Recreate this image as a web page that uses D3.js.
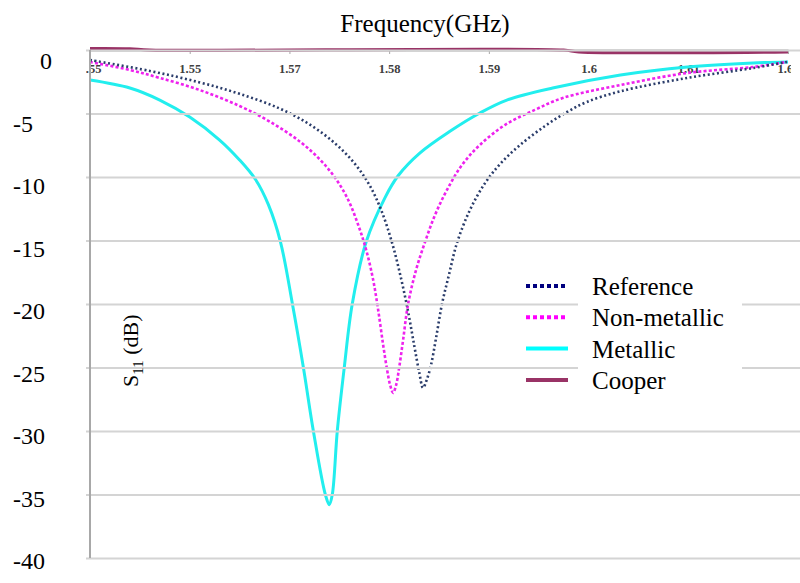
<!DOCTYPE html>
<html><head><meta charset="utf-8">
<script src="https://cdn.jsdelivr.net/npm/d3@7"></script>
<style>body{margin:0;background:#fff}svg{display:block}</style>
</head><body>
<svg id="chart" width="800" height="583"></svg>
<script>
// ---------- data ----------
const xTickValues = [1.55, 1.56, 1.57, 1.58, 1.59, 1.60, 1.61, 1.62];
const xTickLabels = ["1.55", "1.55", "1.57", "1.58", "1.59", "1.6", "1.61", "1.62"];
const yTickValues = [0, -5, -10, -15, -20, -25, -30, -35, -40];

const seriesNames = ["Reference", "Non-metallic", "Metallic", "Cooper"];

const refFreq = [1.5500,1.5560,1.5610,1.5650,1.5690,1.5720,1.5745,1.5765,1.5780,1.5792,1.5803,1.5812,1.5819,1.5825,1.5830,1.5834,1.5838,1.5842,1.5847,1.5853,1.5860,1.5868,1.5881,1.5896,1.5911,1.5931,1.5956,1.5978,1.5998,1.6032,1.6099,1.6165,1.6199];
const refS11  = [-0.79,-1.65,-2.55,-3.45,-4.6,-5.85,-7.3,-8.9,-10.6,-12.6,-15.2,-18.0,-20.6,-23.2,-25.3,-26.6,-25.9,-24.8,-22.7,-20.0,-17.7,-15.2,-12.6,-10.5,-9.0,-7.5,-6.0,-4.9,-4.1,-3.25,-2.2,-1.42,-0.94];

const nonFreq = [1.5500,1.5540,1.5570,1.5610,1.5650,1.5681,1.5711,1.5731,1.5746,1.5759,1.5769,1.5777,1.5784,1.5789,1.5794,1.5798,1.5801,1.5804,1.5807,1.5810,1.5814,1.5819,1.5827,1.5836,1.5846,1.5858,1.5873,1.5891,1.5916,1.5946,1.5974,1.6032,1.6099,1.6165,1.6199];
const nonS11  = [-0.94,-1.57,-2.2,-3.15,-4.41,-5.67,-7.24,-8.66,-10.08,-11.81,-13.78,-15.75,-18.11,-20.47,-23.23,-25.2,-26.38,-27.0,-26.38,-25.04,-22.83,-20.0,-17.32,-15.12,-12.99,-11.02,-9.06,-7.48,-5.91,-4.72,-3.78,-2.76,-1.81,-1.34,-0.94];

const metFreq = [1.5500,1.5540,1.5570,1.5600,1.5630,1.5650,1.5666,1.5679,1.5691,1.5703,1.5714,1.5724,1.5736,1.5740,1.5743,1.5748,1.5755,1.5763,1.5777,1.5796,1.5809,1.5831,1.5861,1.5891,1.5918,1.5964,1.6032,1.6099,1.6165,1.6200];
const metS11  = [-2.36,-2.99,-3.94,-5.28,-7.09,-8.66,-10.2,-12.2,-15.1,-20.0,-25.0,-30.0,-35.0,-35.8,-35.0,-30.0,-25.0,-20.0,-15.1,-11.6,-9.9,-8.1,-6.4,-4.96,-3.94,-2.99,-1.97,-1.34,-1.02,-0.94];

const coopFreq = [1.5500,1.5540,1.5560,1.5975,1.5990,1.6200];
const coopS11  = [0.12,0.1,0.0,0.0,-0.15,-0.15];

// ---------- layout ----------
const svg = d3.select("#chart");
const W = 800, H = 583;
const x = d3.scaleLinear().domain([1.55, 1.62]).range([90, 788]);
const y = d3.scaleLinear().domain([0, -40]).range([50, 558]);
// the dB labels are an overlay in the original figure, slightly offset from the grid
const yLabel = d3.scaleLinear().domain([0, -40]).range([61, 561]);

const styles = {
  "Reference":    {color: "#2b3d6b", legend: "#00007f", width: 2.6, dash: "2,2.6"},
  "Non-metallic": {color: "#ee22ee", legend: "#ff00ff", width: 2.6, dash: "3,2.2"},
  "Metallic":     {color: "#22eeee", legend: "#00ffff", width: 3,   dash: null},
  "Cooper":       {color: "#993366", legend: "#993366", width: 3,   dash: null}
};

// gridlines
const grid = svg.append("g")
  .attr("transform", "translate(90,0)")
  .call(d3.axisLeft(y).tickValues(yTickValues).tickSize(-(W - 90)).tickSizeOuter(0).tickFormat(""));
grid.select(".domain").remove();
grid.selectAll(".tick line").attr("stroke", "#d4d4d4").attr("stroke-width", 2).attr("x1", -4);

// top x axis (crosses at 0)
const xa = svg.append("g")
  .attr("transform", `translate(0,${y(0)})`)
  .call(d3.axisBottom(x).tickValues(xTickValues).tickSize(4).tickSizeOuter(0)
        .tickFormat((d, i) => xTickLabels[i]));
xa.select(".domain").attr("stroke", "#a8a8a8").attr("stroke-width", 2);
xa.selectAll(".tick line").attr("stroke", "#a8a8a8");
xa.selectAll(".tick text")
  .attr("font-family", "Liberation Serif, serif").attr("font-weight", "bold")
  .attr("font-size", 12.5).attr("fill", "#404040").attr("y", 14).attr("dy", "0.71em");

// series
const line = d3.line().x(d => x(d[0])).y(d => y(d[1])).curve(d3.curveCatmullRom.alpha(0.5));
const seriesData = {
  "Reference": d3.zip(refFreq, refS11),
  "Non-metallic": d3.zip(nonFreq, nonS11),
  "Metallic": d3.zip(metFreq, metS11),
  "Cooper": d3.zip(coopFreq, coopS11)
};
["Cooper", "Metallic", "Non-metallic", "Reference"].forEach(name => {
  const s = styles[name];
  svg.append("path").datum(seriesData[name])
    .attr("d", line).attr("fill", "none")
    .attr("stroke", s.color).attr("stroke-width", s.width)
    .attr("stroke-dasharray", s.dash);
});

// white panels hiding edges (left label panel, right edge)
svg.append("rect").attr("x", 0).attr("y", 56).attr("width", 86).attr("height", H - 56).attr("fill", "#fff");
svg.append("rect").attr("x", 791).attr("y", 56).attr("width", 9).attr("height", 30).attr("fill", "#fff");
grid.raise();
svg.append("line").attr("x1", 90).attr("x2", 90).attr("y1", y(0)).attr("y2", y(-40))
  .attr("stroke", "#a8a8a8").attr("stroke-width", 2);

// y tick labels
const yl = svg.append("g")
  .call(d3.axisLeft(yLabel).tickValues(yTickValues).tickSize(0).tickFormat(d => String(d)));
yl.select(".domain").remove();
yl.selectAll(".tick text")
  .attr("font-family", "Liberation Serif, serif").attr("font-size", 24).attr("fill", "#000")
  .attr("text-anchor", "start").attr("x", d => d === 0 ? 40 : 13);

// title
svg.append("text").attr("x", 425).attr("y", 32).attr("text-anchor", "middle")
  .attr("font-family", "Liberation Serif, serif").attr("font-size", 25).text("Frequency(GHz)");

// y label
const yt = svg.append("text").attr("transform", "translate(138,387) rotate(-90)")
  .attr("font-family", "Liberation Serif, serif").attr("font-size", 22);
yt.append("tspan").text("S");
yt.append("tspan").attr("font-size", 15).attr("dy", 5).text("11");
yt.append("tspan").attr("dy", -5).text(" (dB)");

// legend
svg.append("rect").attr("x", 578).attr("y", 274).attr("width", 164).attr("height", 122).attr("fill", "#fff");
const lg = svg.append("g").attr("transform", "translate(526,286)");
seriesNames.forEach((name, i) => {
  const s = styles[name];
  const row = lg.append("g").attr("transform", `translate(0,${i * 31.3})`);
  row.append("line").attr("x1", 0).attr("x2", 42).attr("y1", 0).attr("y2", 0)
    .attr("stroke", s.legend).attr("stroke-width", 4)
    .attr("stroke-dasharray", s.dash ? "4,3" : null);
  row.append("text").attr("x", 66).attr("y", 9)
    .attr("font-family", "Liberation Serif, serif").attr("font-size", 25).text(name);
});
</script>
</body></html>
